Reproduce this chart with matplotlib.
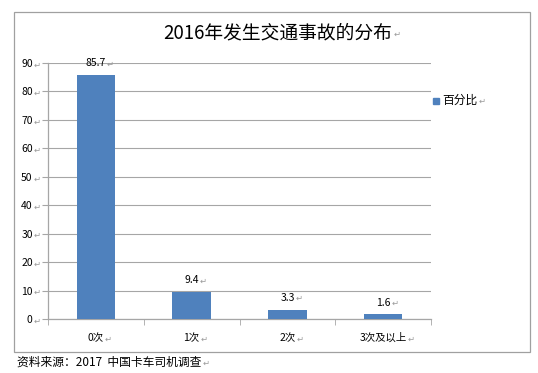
import matplotlib
matplotlib.use('Agg')
import matplotlib.pyplot as plt
from matplotlib.patches import Rectangle

plt.rcParams['font.family'] = ['Noto Sans CJK SC', 'DejaVu Sans']

categories = ['0次', '1次', '2次', '3次及以上']
values = [85.7, 9.4, 3.3, 1.6]
yticks = [0, 10, 20, 30, 40, 50, 60, 70, 80, 90]
title = '2016年发生交通事故的分布'
series_name = '百分比'
source = '资料来源：2017  中国卡车司机调查'
mark = '↵'
bar_color = '#4f81bd'
grid_color = '#a6a6a6'
mark_color = '#9a9a9a'

W, H = 538, 373
fig = plt.figure(figsize=(W / 100, H / 100), dpi=100)

# outer chart frame
fig.patches.append(Rectangle((14 / W, 1 - 352 / H), 516 / W, 340 / H,
                             transform=fig.transFigure, fill=False,
                             edgecolor='#a0a0a0', linewidth=0.9))

ax = fig.add_axes([48 / W, 1 - 319 / H, 383 / W, 256 / H])
x = list(range(len(categories)))
ax.bar(x, values, width=0.4, color=bar_color, zorder=3)
ax.set_xlim(-0.5, len(categories) - 0.5)
ax.set_ylim(0, 90)

ax.set_yticks(yticks)
ax.set_yticklabels([str(t) for t in yticks], fontsize=7.5)
ax.set_xticks(x)
ax.set_xticklabels(categories, fontsize=7.5)
ax.set_xticks([i - 0.5 for i in range(len(categories) + 1)], minor=True)
ax.tick_params(axis='x', which='major', length=0, pad=10)
ax.tick_params(axis='x', which='minor', length=4, color=grid_color, direction='out')
ax.tick_params(axis='y', length=4, color=grid_color, pad=7)

ax.grid(axis='y', color=grid_color, linewidth=0.8, zorder=0)
for s in ['top', 'right']:
    ax.spines[s].set_visible(False)
for s in ['left', 'bottom']:
    ax.spines[s].set_color(grid_color)
    ax.spines[s].set_linewidth(0.9)

labels = []
for i, v in enumerate(values):
    labels.append(ax.annotate(f'{v}', xy=(i, v), xytext=(0, 5), textcoords='offset points',
                              ha='center', va='bottom', fontsize=7.5))

t_title = fig.text(278 / W, 1 - 33 / H, title, ha='center', va='center', fontsize=13.5)

# legend
fig.patches.append(Rectangle((433 / W, 1 - 104 / H), 6 / W, 6 / H,
                             transform=fig.transFigure, color=bar_color))
t_leg = fig.text(442 / W, 1 - 100 / H, series_name, ha='left', va='center', fontsize=8.5)
t_src = fig.text(17 / W, 1 - 362 / H, source, ha='left', va='center', fontsize=8.5)

# paragraph marks right after each text
fig.canvas.draw()
r = fig.canvas.get_renderer()
texts = labels + [t_title, t_leg, t_src] + list(ax.get_xticklabels()) + list(ax.get_yticklabels())
for t in texts:
    bb = t.get_window_extent(r)
    fig.text((bb.x1 + 1) / W, (bb.y0 + bb.y1) / 2 / H - 1 / H, mark, ha='left', va='center',
             fontsize=6, color=mark_color, family=['DejaVu Sans'])

fig.savefig('out.png', dpi=100, facecolor='white')
